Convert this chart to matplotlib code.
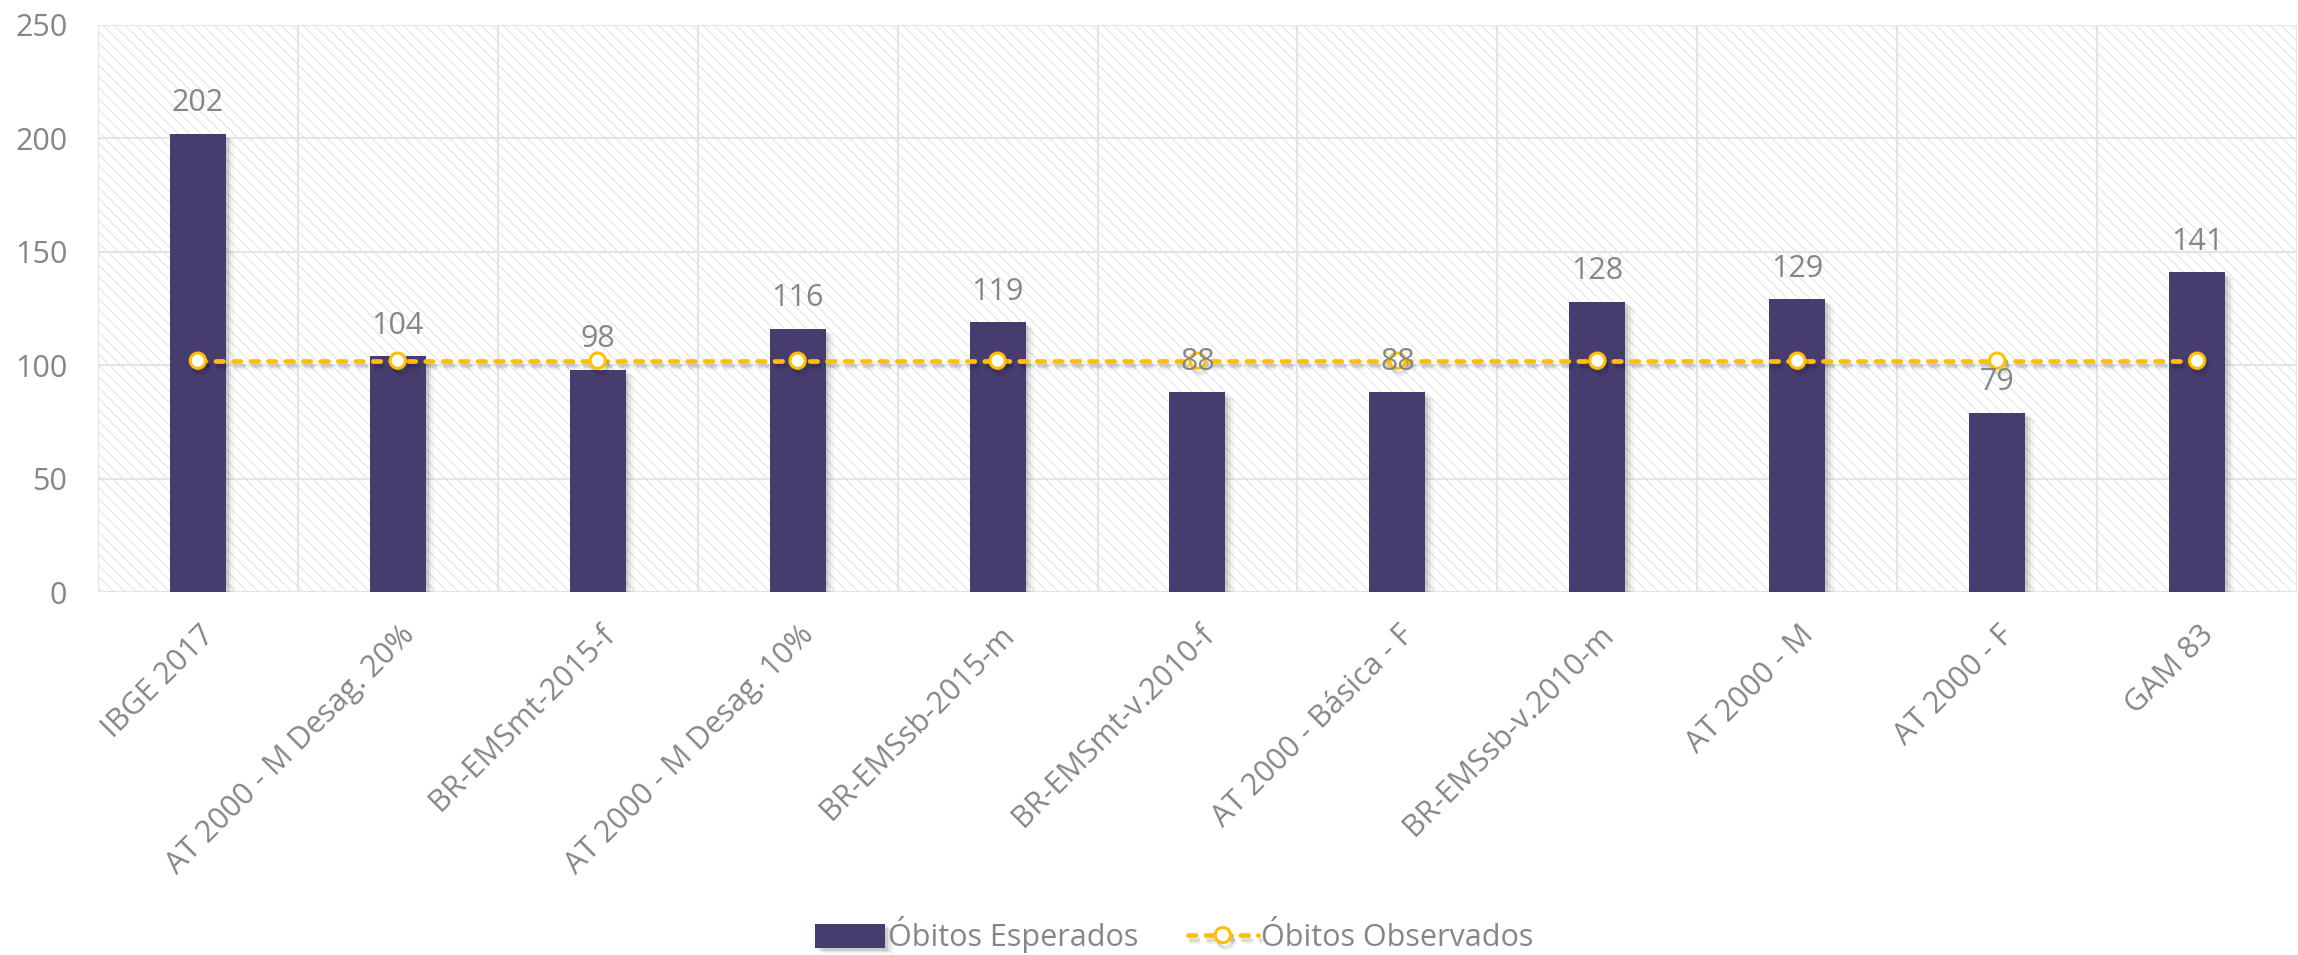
import matplotlib
matplotlib.use("Agg")
import matplotlib.pyplot as plt
import matplotlib.patheffects as pe
from matplotlib.patches import Rectangle
from matplotlib.transforms import ScaledTranslation
import numpy as np

# ---------------------------------------------------------------------------
# Dados
# ---------------------------------------------------------------------------

tabuas = [
    "IBGE 2017",
    "AT 2000 - M Desag. 20%",
    "BR-EMSmt-2015-f",
    "AT 2000 - M Desag. 10%",
    "BR-EMSsb-2015-m",
    "BR-EMSmt-v.2010-f",
    "AT 2000 - Básica - F",
    "BR-EMSsb-v.2010-m",
    "AT 2000 - M",
    "AT 2000 - F",
    "GAM 83",
]
obitos_esperados = [202, 104, 98, 116, 119, 88, 88, 128, 129, 79, 141]
obitos_observados = [102, 102, 102, 102, 102, 102, 102, 102, 102, 102, 102]

COR_BARRA = "#463C6E"
COR_LINHA = "#FFC000"
COR_TEXTO = "#868686"
COR_GRADE = "#E4E4E4"
TAM = 22

plt.rcParams["font.family"] = ["Open Sans", "DejaVu Sans"]
plt.rcParams["hatch.linewidth"] = 0.75

fig = plt.figure(figsize=(22.98, 9.55), dpi=100)
ax = fig.add_axes([0.0426, 0.380, 0.957, 0.594])

x = np.arange(len(tabuas))

# fundo hachurado
ax.add_patch(Rectangle((0, 0), 1, 1, transform=ax.transAxes, facecolor="white",
                       edgecolor="#E2E2E2", hatch="\\\\\\", lw=0, zorder=0))

# barras com sombra
sombra = [pe.SimplePatchShadow(offset=(2, -2), shadow_rgbFace="black", alpha=0.10),
          pe.SimplePatchShadow(offset=(4, -3), shadow_rgbFace="black", alpha=0.07),
          pe.SimplePatchShadow(offset=(6, -4), shadow_rgbFace="black", alpha=0.04),
          pe.Normal()]
barras = ax.bar(x, obitos_esperados, width=0.28, color=COR_BARRA, zorder=3,
                label="Óbitos Esperados")
for b in barras:
    b.set_path_effects(sombra)

# rótulos de dados
for xi, v in zip(x, obitos_esperados):
    ax.annotate(f"{v}", (xi, v), xytext=(0, 22), textcoords="offset points",
                ha="center", va="center", fontsize=TAM, color=COR_TEXTO, zorder=6)

# linha observada
linha, = ax.plot(x, obitos_observados, color=COR_LINHA, lw=3.4, linestyle=(0, (1.6, 2.1)),
                 dash_capstyle="round",
                 marker="o", markersize=11, markerfacecolor="white",
                 markeredgecolor=COR_LINHA, markeredgewidth=2.2, zorder=5,
                 label="Óbitos Observados",
                 path_effects=[pe.SimpleLineShadow(offset=(1.5, -3), alpha=0.10),
                               pe.SimpleLineShadow(offset=(2.5, -4.5), alpha=0.06),
                               pe.Normal()])

# eixos e grade
ax.set_xlim(-0.5, len(tabuas) - 0.5)
ax.set_ylim(0, 250)
ax.set_yticks(range(0, 251, 50))
ax.set_xticks(x)
ax.set_xticks(np.arange(-0.5, len(tabuas) + 0.5, 1), minor=True)
ax.grid(axis="y", which="major", color=COR_GRADE, lw=1.5, zorder=1)
ax.grid(axis="x", which="minor", color=COR_GRADE, lw=1.5, zorder=1)
ax.set_axisbelow(True)
for s in ax.spines.values():
    s.set_visible(False)
ax.tick_params(axis="both", which="both", length=0, colors=COR_TEXTO, labelsize=TAM)
ax.tick_params(axis="y", pad=22)
ax.tick_params(axis="x", pad=20)
ax.set_xticklabels(tabuas, rotation=45, ha="right", va="top", rotation_mode="anchor")
desloc = ScaledTranslation(1 / 72, 0, fig.dpi_scale_trans)
for lbl in ax.get_xticklabels():
    lbl.set_transform(lbl.get_transform() + desloc)

fig.legend([barras, linha], ["Óbitos Esperados", "Óbitos Observados"],
           loc="center", bbox_to_anchor=(0.511, 0.021), ncol=2, frameon=False,
           fontsize=TAM, labelcolor=COR_TEXTO, handlelength=2.3,
           handleheight=0.85, handletextpad=0.1, columnspacing=1.6,
           numpoints=1)

fig.savefig("out.png", dpi=100)
